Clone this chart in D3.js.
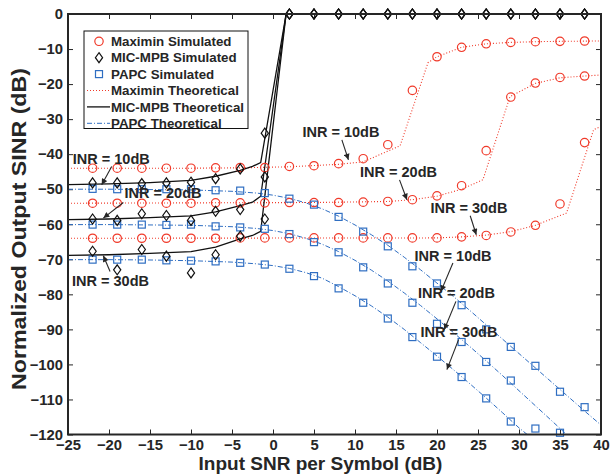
<!DOCTYPE html>
<html>
<head>
<meta charset="utf-8">
<script src="https://cdn.jsdelivr.net/npm/d3@7"></script>
<style>
  html, body { margin: 0; padding: 0; background: #fff; }
  svg { display: block; font-family: "Liberation Sans", Arial, sans-serif; font-weight: bold; }
</style>
</head>
<body>
<svg id="chart" width="610" height="474"></svg>
<script>
// ---- Data -------------------------------------------------------------
const xTicks = [-25, -20, -15, -10, -5, 0, 5, 10, 15, 20, 25, 30, 35, 40];
const yTicks = [0, -10, -20, -30, -40, -50, -60, -70, -80, -90, -100, -110, -120];

// SNR points of the simulated results (dB)
const snrSim = [-22, -19, -16, -13, -10, -7, -4, -1, 2, 5, 8, 11, 14, 17, 20, 23, 26, 29, 32, 35, 38];

const maximinSim10 = [-44, -44, -44, -44, -44, -43.9, -43.8, -43.8, -43.5, -43.3, -42.7, -41.3, -37.3, -21.8, -12.2, -9.5, -8.5, -8.1, -7.9, -7.8, -7.7];
const maximinSim20 = [-54, -54, -54, -54, -54, -53.9, -53.9, -53.9, -53.8, -53.8, -53.8, -53.7, -53.5, -53, -51.9, -49, -39, -23.7, -19.7, -18.1, -17.7];
const maximinSim30 = [-64, -64, -64, -64, -64, -64, -63.9, -63.9, -63.9, -63.9, -63.9, -63.9, -63.9, -63.9, -63.9, -63.6, -63.2, -62.2, -60.3, -54.2, -36.7];

const micSim10 = [-48.2, -48.2, -48.4, -48.2, -48, -47, -44.2, -34, 0, 0, 0, 0, 0, 0, 0, 0, 0, 0, 0, 0, 0];
const micSim20 = [-58.5, -58.9, -57, -57.5, -58.9, -56.3, -55.8, -46.5, 0, 0, 0, 0, 0, 0, 0, 0, 0, 0, 0, 0, 0];
const micSim30 = [-67.7, -73, -67.2, -69.1, -73.9, -68.7, -63.4, -58.5, 0, 0, 0, 0, 0, 0, 0, 0, 0, 0, 0, 0, 0];

const papcSim10 = [-49.9, -50, -50, -50, -50, -50.3, -50.4, -51.1, -52.7, -54.4, -57.9, -62.1, -66.3, -72, -76.9, -83.1, -90, -95, -100.4, -107.8, -112.2];
const papcSim20 = [-60.1, -60.1, -60.1, -60.2, -60.1, -60.6, -60.9, -61.3, -62.8, -65.1, -68, -72.3, -76.9, -82.4, -88.4, -93.6, -99.3, -104.6, -118.3, -119.5, null];
const papcSim30 = [-70.1, -70.1, -70.1, -70.3, -70.4, -70.6, -71, -71.5, -72.7, -74.8, -78.3, -82.4, -86.9, -92.2, -97.8, -103.6, -109.7, -116.3, null, null, null];

// Theoretical curves: SNR grid and values (dB)
const maximinTheoSnr10 = [-25, -10, -4, 2, 8, 11, 15.5, 18.9, 20, 23, 26, 29, 32, 35, 40];
const maximinTheo10 = [-44, -44, -43.9, -43.6, -42.9, -42.2, -37.6, -13.9, -12.2, -9.5, -8.5, -8.1, -7.9, -7.8, -7.7];
const maximinTheoSnr20 = [-25, 5, 14, 17, 20, 23, 25.6, 28.9, 32, 35, 38, 40];
const maximinTheo20 = [-54, -53.8, -53.5, -53, -52, -50, -47.3, -23.6, -19.8, -18.2, -17.7, -17.4];
const maximinTheoSnr30 = [-25, 20, 23, 26, 29, 32, 35.8, 39.1, 40];
const maximinTheo30 = [-64, -63.9, -63.6, -63.1, -62.1, -60.3, -56.8, -33, -32.1];

const micTheoSnr = [-25, -20, -15, -10, -7, -4, -2.5, -1.5, 1.6, 40];
const micTheo10 = [-48.7, -48.5, -48.1, -47.5, -46.3, -44.6, -43.5, -42.4, 0, 0];
const micTheo20 = [-58.7, -58.5, -58.1, -57.6, -56.5, -54.7, -53.7, -52, 0, 0];
const micTheo30 = [-68.9, -68.7, -68.3, -67.8, -66.5, -64.2, -63.2, -62, 0, 0];

const papcTheoSnr10 = [-25, -20, -15, -10, -5, -2, 0, 2, 4, 6, 8, 10, 12, 14, 16, 18, 20, 22, 24, 26, 28, 30, 32, 34, 36, 38, 40];
const papcTheo10 = [-50, -50, -50.1, -50.2, -50.6, -51.1, -51.7, -52.6, -53.9, -55.6, -57.7, -60.2, -63, -66, -69.4, -73, -76.8, -80.6, -84.6, -88.7, -92.8, -96.9, -101, -105.1, -109.2, -113.3, -117.3];
const papcTheoSnr20 = [-25, -20, -15, -10, -5, -2, 0, 2, 4, 6, 8, 10, 12, 14, 16, 18, 20, 22, 24, 26, 28, 30, 32, 34, 35.8];
const papcTheo20 = [-60.1, -60.1, -60.2, -60.3, -60.7, -61.2, -61.8, -62.7, -64, -65.7, -67.8, -70.3, -73.1, -76.2, -79.6, -83.2, -87, -90.9, -94.9, -99, -103.2, -107.5, -111.8, -116.1, -120];
const papcTheoSnr30 = [-25, -20, -15, -10, -5, -2, 0, 2, 4, 6, 8, 10, 12, 14, 16, 18, 20, 22, 24, 26, 28, 30, 31];
const papcTheo30 = [-70.1, -70.1, -70.2, -70.4, -70.8, -71.3, -71.8, -72.6, -73.8, -75.4, -77.8, -80.4, -83.3, -86.5, -90, -93.8, -97.6, -101.5, -105.5, -109.6, -113.8, -118.1, -120];

const legendLabels = ["Maximin Simulated", "MIC-MPB Simulated", "PAPC Simulated",
                      "Maximin Theoretical", "MIC-MPB Theoretical", "PAPC Theoretical"];

// INR annotations: label position and arrow (tail -> head), in data units
const annotations = [
  { text: "INR = 10dB", tx: -19.72, ty: -41.33, x1: -19.67, y1: -43.53, x2: -20.89, y2: -48.75 },
  { text: "INR = 20dB", tx: -13.41, ty: -51.11, x1: -18.25, y1: -53.79, x2: -20.69, y2: -58.24 },
  { text: "INR = 30dB", tx: -19.81, ty: -76.03, x1: -19.87, y1: -73.46, x2: -20.69, y2: -68.99 },
  { text: "INR = 10dB", tx: 8.29, ty: -33.72, x1: 8.4, y1: -35.92, x2: 9.2, y2: -41.62 },
  { text: "INR = 20dB", tx: 15.31, ty: -45.13, x1: 15.43, y1: -47.33, x2: 16.33, y2: -53.02 },
  { text: "INR = 30dB", tx: 23.9, ty: -55.39, x1: 24.05, y1: -57.58, x2: 24.79, y2: -63 },
  { text: "INR = 10dB", tx: 21.96, ty: -68.98, x1: 21.94, y1: -71.07, x2: 20.48, y2: -79.16 },
  { text: "INR = 20dB", tx: 22.37, ty: -79.62, x1: 22.31, y1: -82.01, x2: 20.88, y2: -90.1 },
  { text: "INR = 30dB", tx: 22.68, ty: -90.73, x1: 22.63, y1: -92.93, x2: 21.21, y2: -101.48 }
];

// ---- Styles -------------------------------------------------------------
const RED = "#f03a2a";
const BLUE = "#2f6ec2";
const INK = "#262626";

// ---- Layout -------------------------------------------------------------
const svg = d3.select("#chart");
const plot = { left: 68, right: 601, top: 14, bottom: 434.5 };

const x = d3.scaleLinear().domain([-25, 40]).range([plot.left, plot.right]);
const y = d3.scaleLinear().domain([-120, 0]).range([plot.bottom, plot.top]);

const defs = svg.append("defs");
defs.append("clipPath").attr("id", "plotClip")
  .append("rect")
  .attr("x", plot.left).attr("y", plot.top)
  .attr("width", plot.right - plot.left).attr("height", plot.bottom - plot.top);

defs.append("marker")
  .attr("id", "arrowHead")
  .attr("viewBox", "0 0 10 10")
  .attr("refX", 10).attr("refY", 5)
  .attr("markerWidth", 7).attr("markerHeight", 6)
  .attr("markerUnits", "userSpaceOnUse")
  .attr("orient", "auto")
  .append("path").attr("d", "M0,0 L10,5 L0,10 Z").attr("fill", INK);

// ---- Axes (inward ticks on all four sides) ------------------------------
const tickLen = 5;
const fmt = d3.format("d");

const gx = svg.append("g").attr("transform", `translate(0,${plot.bottom})`)
  .call(d3.axisBottom(x).tickValues(xTicks).tickFormat(fmt).tickSizeInner(-tickLen).tickSizeOuter(0).tickPadding(5));
const gy = svg.append("g").attr("transform", `translate(${plot.left},0)`)
  .call(d3.axisLeft(y).tickValues(yTicks).tickFormat(fmt).tickSizeInner(-tickLen).tickSizeOuter(0).tickPadding(5));
const gxTop = svg.append("g").attr("transform", `translate(0,${plot.top})`)
  .call(d3.axisTop(x).tickValues(xTicks).tickFormat("").tickSizeInner(-tickLen).tickSizeOuter(0));
const gyRight = svg.append("g").attr("transform", `translate(${plot.right},0)`)
  .call(d3.axisRight(y).tickValues(yTicks).tickFormat("").tickSizeInner(-tickLen).tickSizeOuter(0));

[gx, gy, gxTop, gyRight].forEach(g => {
  g.select(".domain").remove();
  g.selectAll(".tick line").attr("stroke", INK).attr("stroke-width", 1);
  g.selectAll(".tick text")
    .attr("fill", INK)
    .attr("font-family", "'Liberation Sans', Arial, sans-serif")
    .attr("font-weight", "bold")
    .attr("font-size", 14.8);
});

// ---- Theoretical curves --------------------------------------------------
const lineGen = d3.line()
  .defined(d => d[1] !== null)
  .x(d => x(d[0])).y(d => y(d[1]));

const curves = svg.append("g").attr("clip-path", "url(#plotClip)");

function drawCurve(xs, ys, color, width, dash) {
  curves.append("path")
    .datum(d3.zip(xs, ys))
    .attr("d", lineGen)
    .attr("fill", "none")
    .attr("stroke", color)
    .attr("stroke-width", width)
    .attr("stroke-dasharray", dash);
}

drawCurve(papcTheoSnr10, papcTheo10, BLUE, 1, "5,2,1,2");
drawCurve(papcTheoSnr20, papcTheo20, BLUE, 1, "5,2,1,2");
drawCurve(papcTheoSnr30, papcTheo30, BLUE, 1, "5,2,1,2");
drawCurve(maximinTheoSnr10, maximinTheo10, RED, 1.1, "1,2");
drawCurve(maximinTheoSnr20, maximinTheo20, RED, 1.1, "1,2");
drawCurve(maximinTheoSnr30, maximinTheo30, RED, 1.1, "1,2");
drawCurve(micTheoSnr, micTheo10, "#111", 1.3, null);
drawCurve(micTheoSnr, micTheo20, "#111", 1.3, null);
drawCurve(micTheoSnr, micTheo30, "#111", 1.3, null);

// ---- Simulated markers ----------------------------------------------------
const marks = svg.append("g");

function circles(ys) {
  marks.append("g").selectAll("circle")
    .data(d3.zip(snrSim, ys).filter(d => d[1] !== null))
    .join("circle")
    .attr("cx", d => x(d[0])).attr("cy", d => y(d[1]))
    .attr("r", 4.2)
    .attr("fill", "none").attr("stroke", RED).attr("stroke-width", 1.2);
}
function squares(ys) {
  marks.append("g").selectAll("rect")
    .data(d3.zip(snrSim, ys).filter(d => d[1] !== null))
    .join("rect")
    .attr("x", d => x(d[0]) - 3.5).attr("y", d => y(d[1]) - 3.5)
    .attr("width", 7).attr("height", 7)
    .attr("fill", "none").attr("stroke", BLUE).attr("stroke-width", 1.2);
}
const diamondPath = (cx, cy) => `M${cx},${cy - 5}L${cx + 3.6},${cy}L${cx},${cy + 5}L${cx - 3.6},${cy}Z`;
function diamonds(ys) {
  marks.append("g").selectAll("path")
    .data(d3.zip(snrSim, ys).filter(d => d[1] !== null))
    .join("path")
    .attr("d", d => diamondPath(x(d[0]), y(d[1])))
    .attr("fill", "none").attr("stroke", "#111").attr("stroke-width", 1.2);
}

circles(maximinSim10); circles(maximinSim20); circles(maximinSim30);
squares(papcSim10); squares(papcSim20); squares(papcSim30);
diamonds(micSim10); diamonds(micSim20); diamonds(micSim30);

// ---- Plot frame ------------------------------------------------------------
svg.append("rect")
  .attr("x", plot.left).attr("y", plot.top)
  .attr("width", plot.right - plot.left).attr("height", plot.bottom - plot.top)
  .attr("fill", "none").attr("stroke", INK).attr("stroke-width", 2);

// ---- Annotations -----------------------------------------------------------
const ann = svg.append("g");
annotations.forEach(a => {
  ann.append("line")
    .attr("x1", x(a.x1)).attr("y1", y(a.y1))
    .attr("x2", x(a.x2)).attr("y2", y(a.y2))
    .attr("stroke", INK).attr("stroke-width", 1.1)
    .attr("marker-end", "url(#arrowHead)");
  ann.append("text")
    .attr("x", x(a.tx)).attr("y", y(a.ty))
    .attr("dy", "0.36em")
    .attr("text-anchor", "middle")
    .attr("font-size", 14.5)
    .attr("fill", INK)
    .text(a.text);
});

// ---- Legend ----------------------------------------------------------------
const legend = svg.append("g");
const lg = { x: 84, y: 31, w: 164, h: 97.5, row0: 41.3, rowStep: 16.4 };
legend.append("rect")
  .attr("x", lg.x).attr("y", lg.y).attr("width", lg.w).attr("height", lg.h)
  .attr("fill", "#fff").attr("stroke", "#111").attr("stroke-width", 1);

const legendStyles = [
  { kind: "circle", color: RED },
  { kind: "diamond", color: "#111" },
  { kind: "square", color: BLUE },
  { kind: "line", color: RED, width: 1.1, dash: "1,2" },
  { kind: "line", color: "#111", width: 1.3, dash: null },
  { kind: "line", color: BLUE, width: 1, dash: "5,2,1,2" }
];

legendLabels.forEach((label, i) => {
  const cy = lg.row0 + i * lg.rowStep;
  const s = legendStyles[i];
  const mx = 99;
  if (s.kind === "circle") {
    legend.append("circle").attr("cx", mx).attr("cy", cy).attr("r", 4.2)
      .attr("fill", "none").attr("stroke", s.color).attr("stroke-width", 1.2);
  } else if (s.kind === "square") {
    legend.append("rect").attr("x", mx - 3.5).attr("y", cy - 3.5).attr("width", 7).attr("height", 7)
      .attr("fill", "none").attr("stroke", s.color).attr("stroke-width", 1.2);
  } else if (s.kind === "diamond") {
    legend.append("path").attr("d", diamondPath(mx, cy))
      .attr("fill", "none").attr("stroke", s.color).attr("stroke-width", 1.2);
  } else {
    legend.append("line").attr("x1", 87).attr("x2", 110).attr("y1", cy).attr("y2", cy)
      .attr("stroke", s.color).attr("stroke-width", s.width).attr("stroke-dasharray", s.dash);
  }
  legend.append("text")
    .attr("x", 111).attr("y", cy).attr("dy", "0.36em")
    .attr("font-size", 13.3).attr("fill", INK)
    .text(label);
});

// ---- Axis titles ------------------------------------------------------------
svg.append("text")
  .attr("x", 320.5).attr("y", 469.5)
  .attr("text-anchor", "middle")
  .attr("font-size", 19).attr("fill", INK)
  .text("Input SNR per Symbol (dB)");

svg.append("text")
  .attr("transform", "translate(26,229) rotate(-90)")
  .attr("text-anchor", "middle")
  .attr("font-size", 21).attr("fill", INK)
  .attr("textLength", 322).attr("lengthAdjust", "spacingAndGlyphs")
  .text("Normalized Output SINR (dB)");
</script>
</body>
</html>
